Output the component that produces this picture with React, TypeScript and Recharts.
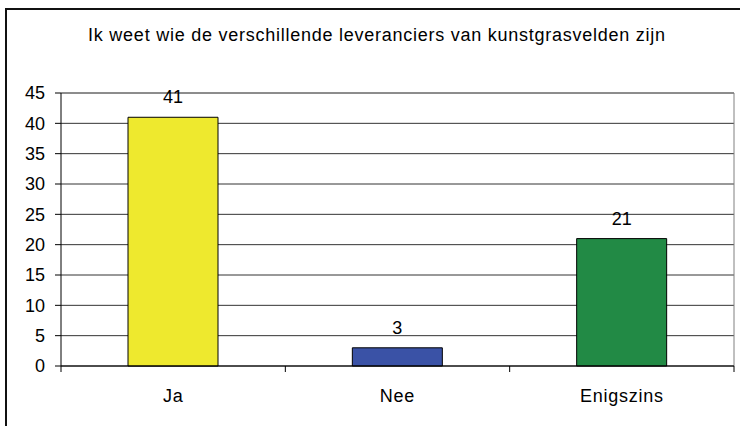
import React from 'react';
import { BarChart, Bar, XAxis, YAxis, CartesianGrid, LabelList, Cell } from 'recharts';

const categories = ['Ja', 'Nee', 'Enigszins'];
const values = [41, 3, 21];
const colors = ['#EEE92E', '#3A52A6', '#228A45'];
const yTicks = [0, 5, 10, 15, 20, 25, 30, 35, 40, 45];
const title = 'Ik weet wie de verschillende leveranciers van kunstgrasvelden zijn';

const data = categories.map((name, i) => ({ name, value: values[i] }));

const FONT = "Arial, 'Liberation Sans', sans-serif";

function CategoryTick(props: any) {
  const { x, y, width, visibleTicksCount, payload, index } = props;
  const band = width / visibleTicksCount;
  const left = x - band / 2;
  const right = x + band / 2;
  return (
    <g>
      <line x1={left} y1={y} x2={left} y2={y + 6} stroke="#000" />
      {index === visibleTicksCount - 1 && <line x1={right} y1={y} x2={right} y2={y + 6} stroke="#000" />}
      <text x={x} y={y + 36} textAnchor="middle" fontSize={18} fill="#000" fontFamily={FONT} letterSpacing={0.75}>
        {payload.value}
      </text>
    </g>
  );
}

export default function App() {
  return (
    <div style={{ position: 'absolute', left: 0, top: 0, width: 740, height: 426, overflow: 'hidden', background: '#fff', fontFamily: FONT }}>
      <div style={{ position: 'absolute', left: 5, top: 8, width: 900, height: 600, borderLeft: '2px solid #111', borderTop: '2px solid #111' }} />
      <div style={{ position: 'absolute', left: 0, top: 26, width: 754, textAlign: 'center', fontSize: 18, lineHeight: '18px', letterSpacing: 0.75, color: '#000', whiteSpace: 'nowrap' }}>
        {title}
      </div>
      <div style={{ position: 'absolute', left: 0, top: 0 }}>
        <BarChart width={740} height={426} data={data} margin={{ top: 93, right: 6, left: 0, bottom: 0 }} barCategoryGap="60%">
          <CartesianGrid vertical={false} stroke="#333" strokeWidth={1} />
          <CartesianGrid
            stroke="#808080"
            strokeWidth={1}
            horizontalCoordinatesGenerator={({ offset }: any) => [offset.top]}
            verticalCoordinatesGenerator={({ offset }: any) => [offset.left + offset.width]}
          />
          <XAxis dataKey="name" type="category" height={60} tickLine={false} axisLine={{ stroke: '#000' }} tickSize={0} tickMargin={0}
            interval={0} tick={<CategoryTick />} />
          <YAxis type="number" domain={[0, 45]} ticks={yTicks} interval={0} width={61} axisLine={{ stroke: '#000' }} tickLine={{ stroke: '#000' }} tickSize={6} tickMargin={10}
            tick={{ fontSize: 18, fill: '#000', fontFamily: FONT }} />
          <Bar dataKey="value" stroke="#000" strokeWidth={1} barSize={90} isAnimationActive={false}>
            {data.map((d, i) => <Cell key={d.name} fill={colors[i]} />)}
            <LabelList dataKey="value" position="top" offset={14} style={{ fontSize: 18, fill: '#000', fontFamily: FONT }} />
          </Bar>
        </BarChart>
      </div>
    </div>
  );
}
